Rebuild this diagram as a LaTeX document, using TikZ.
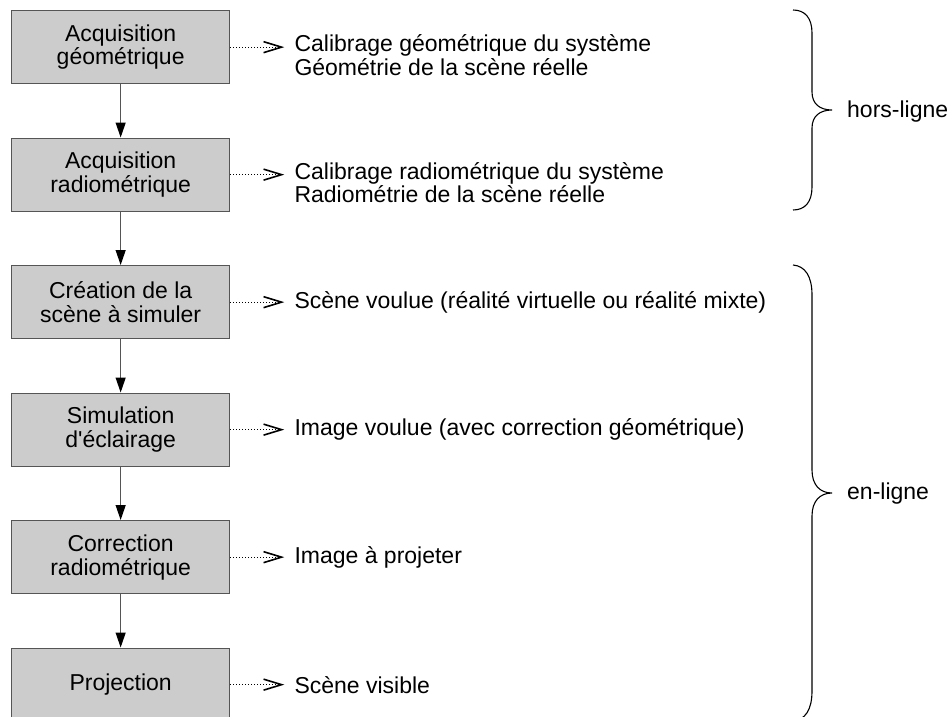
\documentclass[tikz,border=0pt]{standalone}
\usepackage{fontspec}
\setmainfont{Liberation Sans}[Ligatures=TeXOff]
\usetikzlibrary{arrows.meta}
\definecolor{boxfill}{HTML}{CCCCCC}
\definecolor{boxdraw}{HTML}{555555}
\tikzset{
  stepbox/.style={draw=boxdraw, fill=boxfill, line width=1.3pt, minimum width=218pt, minimum height=73pt,
    inner sep=0pt, align=center, font=\fontsize{23}{23.8}\selectfont, anchor=north west},
  flow/.style={draw=boxdraw, line width=1.2pt, -{Triangle[length=15pt,width=10pt,black]}},
  outarrow/.style={draw=black, dotted, line width=1pt, -{Straight Barb[length=18pt,width=11pt,line width=1.6pt]}, shorten >=-1pt},
  outtext/.style={anchor=west, align=left, inner sep=0pt, font=\fontsize{23}{23.5}\selectfont},
  bracestyle/.style={draw=black, line width=1.1pt},
  bracelabel/.style={anchor=west, inner sep=0pt, font=\fontsize{23}{23.5}\selectfont}
}
\begin{document}
\begin{tikzpicture}[x=1pt,y=-1pt]
\useasboundingbox (0,0) rectangle (950,717);
\node[stepbox] (b1) at (11,10) {Acquisition\\géométrique};
\node[stepbox] (b2) at (11,137.5) {Acquisition\\radiométrique};
\node[stepbox] (b3) at (11,265) {Création de la\\scène à simuler};
\node[stepbox] (b4) at (11,392.5) {Simulation\\d'éclairage};
\node[stepbox] (b5) at (11,520) {Correction\\radiométrique};
\node[stepbox] (b6) at (11,647.5) {Projection};

\foreach \a/\b in {b1/b2,b2/b3,b3/b4,b4/b5,b5/b6}{
  \draw[flow] (\a.south) -- (\b.north);
}

\node[outtext] (t1) at ([xshift=64pt,yshift=-8pt]b1.east) {Calibrage géométrique du système\\Géométrie de la scène réelle};
\node[outtext] (t2) at ([xshift=64pt,yshift=-8pt]b2.east) {Calibrage radiométrique du système\\Radiométrie de la scène réelle};
\node[outtext] (t3) at ([xshift=64pt]b3.east) {Scène voulue (réalité virtuelle ou réalité mixte)};
\node[outtext] (t4) at ([xshift=64pt]b4.east) {Image voulue (avec correction géométrique)};
\node[outtext] (t5) at ([xshift=64pt]b5.east) {Image à projeter};
\node[outtext] (t6) at ([xshift=64pt]b6.east) {Scène visible};

\foreach \i in {1,...,6}{
  \coordinate (e\i) at ([xshift=53pt]b\i.east);
  \draw[outarrow] (b\i.east) -- (e\i);
}

% braces
\draw[bracestyle] (793,10) .. controls (805,10) and (812,18) .. (812,33)
  -- (812,92) .. controls (812,104) and (820,110) .. (832,110)
  .. controls (820,110) and (812,116) .. (812,128)
  -- (812,187) .. controls (812,202) and (805,210) .. (793,210);
\node[bracelabel] (l1) at (847,112) {hors-ligne};

\draw[bracestyle] (793,265) .. controls (805,266) and (812,276) .. (812,295)
  -- (812,470) .. controls (812,485) and (820,493) .. (832,493)
  .. controls (820,493) and (812,501) .. (812,516)
  -- (812,691) .. controls (812,710) and (805,720) .. (793,721);
\node[bracelabel] (l2) at (847,494) {en-ligne};
\end{tikzpicture}
\end{document}
